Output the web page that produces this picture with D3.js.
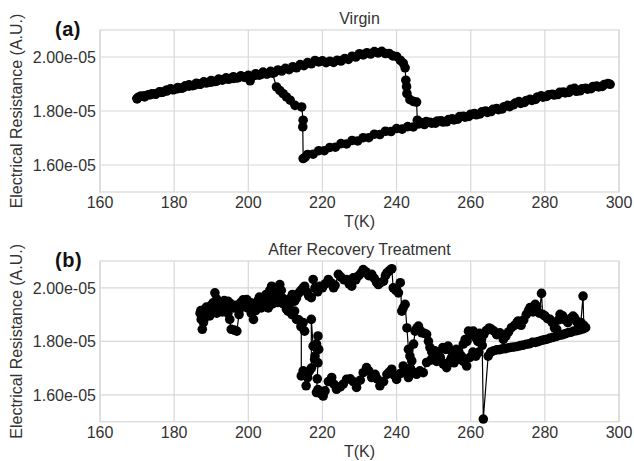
<!DOCTYPE html>
<html><head><meta charset="utf-8">
<script src="https://cdn.jsdelivr.net/npm/d3@7/dist/d3.min.js"></script>
<style>body{margin:0;background:#fff;} svg{display:block;}</style>
</head><body>
<svg id="chart" width="634" height="461"></svg>
<script>
const xTicks = [160, 180, 200, 220, 240, 260, 280, 300];
const yTicks = [1.6e-5, 1.8e-5, 2.0e-5];
const yTickLabels = ["1.60e-05", "1.80e-05", "2.00e-05"];
const panelLabels = ["(a)", "(b)"];
const panelTitles = ["Virgin", "After Recovery Treatment"];
const xLabel = "T(K)";
const yLabel = "Electrical Resistance (A.U.)";
const UNIT = 1e-5;

// Virgin: [T (K), R (x1e-5)] in measurement order
const virgin = [
[170,1.847],[171,1.855],[172,1.852],[173,1.860],[174,1.864],[175,1.862],[176,1.871],[177,1.870],[178,1.878],[179,1.882],
[180,1.879],[181,1.887],[182,1.884],[183,1.893],[184,1.897],[185,1.894],[186,1.903],[187,1.899],[188,1.908],[189,1.905],
[190,1.913],[191,1.909],[192,1.918],[193,1.915],[194,1.923],[195,1.919],[196,1.927],[197,1.922],[198,1.930],[199,1.925],
[200,1.932],[201,1.928],[202,1.938],[203,1.933],[204,1.944],[205,1.938],[206,1.947],[207,1.942],[208,1.952],[209,1.948],
[210,1.958],[211,1.953],[212,1.964],[213,1.960],[214,1.972],[215,1.968],[216,1.979],[217,1.975],[218,1.987],[219,1.982],
[220,1.986],[221,1.979],[222,1.984],[223,1.980],[224,1.988],[225,1.985],[226,1.994],[227,1.991],[228,2.003],[229,2.000],
[230,2.012],[231,2.008],[232,2.016],[233,2.011],[234,2.020],[235,2.015],[236,2.021],[237,2.013],[238,2.013],[239,2.004],
[240,2.002],[241,1.988],[241.8,1.977],[242.3,1.960],[242.5,1.914],[242.7,1.890],[242.8,1.864],[243.6,1.842],[244.6,1.835],[245.4,1.833],
[245.6,1.766],[246.5,1.757],[248,1.761],[249.5,1.755],[251,1.763],[252.5,1.759],[254,1.768],[255.5,1.767],[257,1.779],[258.5,1.777],
[260,1.788],[261.5,1.786],[263,1.797],[264.5,1.795],[266,1.806],[267.5,1.805],[269,1.816],[270.5,1.816],[272,1.829],[273.5,1.828],
[275,1.839],[276.5,1.839],[278,1.852],[279.5,1.851],[281,1.860],[282.5,1.859],[284,1.869],[285.5,1.867],[287,1.880],[288.5,1.873],
[290,1.882],[291.5,1.881],[293,1.891],[294.5,1.889],[296,1.898],[297.6,1.899],
[297,1.902],[295.5,1.891],[294,1.892],[292.5,1.883],[291,1.884],[289.5,1.875],[288,1.884],[286.5,1.869],[285,1.870],[283.5,1.861],
[282,1.862],[280.5,1.854],[279,1.856],[277.5,1.843],[276,1.843],[274.5,1.832],[273,1.835],[271.5,1.823],[270,1.821],[268.5,1.808],
[267,1.809],[265.5,1.798],[264,1.800],[262.5,1.789],[261,1.791],[259.5,1.780],[258,1.780],[256.5,1.770],[255,1.771],[253.5,1.760],
[252,1.764],[250.5,1.755],[249,1.758],[247.5,1.750],[246,1.752],[244.5,1.741],[243,1.742],[241.5,1.733],[240,1.735],[238.5,1.724],
[237,1.725],[235.5,1.713],[234,1.714],[232.5,1.701],[231,1.701],[229.5,1.689],[228,1.691],[226.5,1.678],[225,1.679],[223.5,1.666],
[222,1.665],[220.5,1.653],[219,1.653],[217.5,1.640],[216,1.639],[215.3,1.628],[214.8,1.624],
[214.7,1.741],[214.8,1.766],[214.4,1.815],[212.6,1.821],[211.3,1.840],[210.3,1.852],[209.4,1.864],[208.5,1.876],[207.6,1.889],
[206.5,1.940],[205,1.937],[203.5,1.936],[202,1.933],[200.5,1.912],[199,1.926],[197.5,1.925],[196,1.921],[194.5,1.918],[193,1.915],
[191.5,1.911],[190,1.907],[188.5,1.904],[187,1.900],[185.5,1.896],[184,1.892],[182.5,1.887],[181,1.883],[179.5,1.879],[178,1.874],
[176.5,1.869],[175,1.864],[173.5,1.860],[172,1.856],[170.5,1.852],[170,1.845]
];

// After Recovery Treatment: [T (K), R (x1e-5)] in measurement order
const recovery = [
[187.0,1.905],[187.3,1.882],[187.6,1.845],[187.9,1.870],[188.3,1.920],[188.7,1.928],[189.2,1.912],[189.6,1.895],[190.0,1.930],[190.5,1.944],
[191.0,1.981],[191.5,1.958],[192.0,1.945],[192.5,1.912],[193.0,1.940],[193.5,1.952],[194.0,1.933],[194.5,1.905],[195.0,1.882],[195.4,1.845],
[196.2,1.842],[196.9,1.838],[197.5,1.900],[198.0,1.945],[198.6,1.955],[199.2,1.938],[199.6,1.956],[200.2,1.940],[200.8,1.905],[201.4,1.882],
[201.9,1.920],[202.5,1.950],[203.0,1.965],[203.6,1.942],[204.2,1.960],[204.8,1.975],[205.4,1.925],[205.8,1.990],[206.3,2.006],[206.9,1.970],
[207.5,1.955],[208.0,1.985],[208.5,2.012],[208.9,1.990],[209.4,1.960],[210.0,1.945],[210.7,1.913],[211.3,1.960],[211.9,1.975],[212.5,1.950],
[213.0,1.962],[213.6,1.980],[214.2,1.990],[214.8,2.000],[215.2,2.006],[215.8,1.985],[216.3,1.970],[217.0,1.963],[217.5,2.031],[218.0,2.000],
[218.7,1.985],[219.3,2.006],[220.0,2.000],[220.8,2.015],[221.6,2.031],[222.4,2.018],[223.0,2.000],[223.4,2.009],[224.3,2.050],[225.0,2.040],
[225.8,2.030],[226.5,2.031],[227.2,2.015],[227.9,2.006],[228.3,2.037],[229.0,2.030],[229.8,2.045],[230.4,2.055],[231.0,2.068],[231.7,2.060],
[232.5,2.045],[233.3,2.050],[234.0,2.035],[234.6,2.020],[235.1,2.012],[235.8,2.020],[236.5,2.025],[237.0,2.045],[237.4,2.056],[238.0,2.063],
[238.7,2.071],[239.1,2.000],[239.8,1.990],[240.5,1.981],[241.0,2.019],[241.4,1.913],[241.8,1.925],[242.3,1.938],[242.8,1.850],[243.2,1.770],
[243.6,1.745],[244.1,1.727],[244.6,1.790],[245.0,1.838],[245.5,1.850],[245.9,1.857],[246.4,1.840],[246.8,1.832],[247.5,1.830],[248.1,1.826],
[248.6,1.800],[249.0,1.777],[249.5,1.760],[250.3,1.765],[251.0,1.755],[251.8,1.740],[252.5,1.777],[253.2,1.770],[253.9,1.782],[254.6,1.765],
[255.3,1.750],[256.1,1.770],[256.8,1.760],[257.5,1.745],[258.0,1.790],[258.5,1.807],[259.0,1.800],[259.4,1.838],[260.0,1.825],[260.7,1.838],
[261.3,1.815],[261.9,1.800],[262.4,1.830],[262.9,1.807],[263.5,1.825],[264.2,1.840],[265.0,1.850],[265.6,1.845],[266.3,1.838],[267.0,1.825],
[267.9,1.832],[268.8,1.807],[269.5,1.820],[270.2,1.835],[271.0,1.851],[271.8,1.860],[272.5,1.870],[272.8,1.876],[273.6,1.860],[274.3,1.880],
[275.0,1.900],[275.6,1.915],[276.0,1.926],[276.8,1.910],[277.4,1.938],[277.8,1.930],[278.5,1.905],[279.1,1.979],[279.4,1.901],[280.0,1.895],
[280.7,1.885],[281.4,1.882],[282.0,1.870],[282.6,1.850],[283.2,1.845],[283.7,1.880],[284.1,1.901],[284.8,1.895],[285.5,1.880],[286.2,1.870],
[286.9,1.885],[287.6,1.894],[288.0,1.888],[288.5,1.876],[289.0,1.865],[289.7,1.870],[290.3,1.969],[290.5,1.860],[290.8,1.851],
[291.0,1.851],[290.2,1.846],[289.4,1.843],[288.6,1.840],[287.8,1.838],[287.0,1.834],[286.2,1.832],[285.4,1.828],[284.6,1.824],[283.8,1.822],
[283.0,1.818],[282.2,1.815],[281.4,1.812],[280.6,1.808],[279.8,1.806],[279.0,1.803],[278.2,1.799],[277.4,1.796],[276.6,1.796],[275.8,1.791],
[275.0,1.789],[274.2,1.786],[273.4,1.784],[272.6,1.781],[271.8,1.779],[271.0,1.778],[270.2,1.776],[269.4,1.773],[268.6,1.772],[267.8,1.769],
[267.0,1.768],[266.2,1.765],[265.4,1.760],[264.7,1.745],[263.4,1.510],[263.1,1.785],[262.2,1.760],[261.4,1.745],[260.6,1.760],[259.8,1.740],
[258.9,1.708],[258.0,1.725],[257.1,1.733],[256.3,1.745],[255.5,1.720],[254.7,1.735],[253.9,1.720],[253.5,1.702],[252.6,1.715],[251.7,1.733],
[250.8,1.725],[250.0,1.745],[249.2,1.730],[248.1,1.721],[247.2,1.683],[246.3,1.690],[245.4,1.677],[244.5,1.685],[243.7,1.700],[243.2,1.665],
[242.5,1.690],[241.8,1.708],[241.0,1.680],[240.0,1.658],[239.3,1.675],[238.7,1.696],[238.0,1.685],[237.4,1.677],[236.5,1.650],[235.5,1.634],
[234.8,1.660],[234.2,1.677],[233.3,1.665],[232.5,1.690],[231.9,1.702],[231.0,1.683],[230.2,1.655],[229.2,1.628],[228.3,1.650],[227.5,1.660],
[226.5,1.658],[225.6,1.640],[224.8,1.630],[223.8,1.621],[223.1,1.640],[222.5,1.665],[221.6,1.650],[220.7,1.615],[220.2,1.596],[219.5,1.605],
[218.8,1.620],[218.4,1.609],[218.6,1.660],[218.8,1.720],[219.0,1.770],[218.8,1.820],[218.4,1.790],[218.0,1.745],[217.9,1.733],[217.5,1.782],
[217.0,1.882],[217.0,1.700],[216.5,1.690],[216.0,1.665],[215.6,1.634],[215.2,1.683],[214.8,1.690],[214.3,1.671],[214.3,1.870],[215.2,1.838],
[214.8,1.870],[214.2,1.855],[213.6,1.880],[213.0,1.882],[212.5,1.913],[211.8,1.900],[211.0,1.935],[210.3,1.920],[209.5,1.940],[208.8,1.955],
[208.0,1.945],[207.3,1.965],[206.5,1.940],[205.8,1.955],[205.0,1.930],[204.3,1.945],[203.5,1.925],[202.8,1.935],[202.0,1.915],[201.2,1.930],
[200.5,1.945],[199.8,1.925],[199.0,1.940],[198.2,1.930],[197.5,1.915],[196.7,1.935],[196.0,1.925],[195.3,1.940],[194.5,1.950],[193.8,1.930],
[193.0,1.910],[192.3,1.925],[191.5,1.905],[190.8,1.915],[190.0,1.935],[189.3,1.920],[188.6,1.895],[188.0,1.880],[187.6,1.900],[187.2,1.915]
];

const svg = d3.select("#chart");
const FONT = "'Liberation Sans', Arial, Helvetica, sans-serif";
const textColor = "#333";
const gridColor = "#d8d8d8";

const panels = [
  {data: virgin, top: 30, bottom: 192},
  {data: recovery, top: 261, bottom: 421.7}
];
const left = 100, right = 619;

panels.forEach((p, i) => {
  const x = d3.scaleLinear().domain([160, 300]).range([left, right]);
  const y = d3.scaleLinear().domain([1.5e-5, 2.1e-5]).range([p.bottom, p.top]);
  const g = svg.append("g");

  g.selectAll(".vg").data(xTicks).join("line")
    .attr("x1", d => x(d)).attr("x2", d => x(d))
    .attr("y1", p.top).attr("y2", p.bottom)
    .attr("stroke", gridColor).attr("stroke-width", 1.2);
  g.selectAll(".hg").data(yTicks).join("line")
    .attr("x1", left).attr("x2", right)
    .attr("y1", d => y(d)).attr("y2", d => y(d))
    .attr("stroke", gridColor).attr("stroke-width", 1.2);
  g.append("rect").attr("x", left).attr("y", p.top)
    .attr("width", right - left).attr("height", p.bottom - p.top)
    .attr("fill", "none").attr("stroke", gridColor).attr("stroke-width", 1.2);

  const line = d3.line().x(d => x(d[0])).y(d => y(d[1] * UNIT));
  g.append("path").datum(p.data).attr("d", line)
    .attr("fill", "none").attr("stroke", "#000").attr("stroke-width", 1.2);
  g.selectAll("circle").data(p.data).join("circle")
    .attr("cx", d => x(d[0])).attr("cy", d => y(d[1] * UNIT))
    .attr("r", 4.8).attr("fill", "#000");

  g.selectAll(".xt").data(xTicks).join("text")
    .attr("x", d => x(d)).attr("y", p.bottom + 16)
    .attr("text-anchor", "middle").attr("font-family", FONT).attr("font-size", 16)
    .attr("fill", textColor).text(d => d);
  g.selectAll(".yt").data(yTicks).join("text")
    .attr("x", 96).attr("y", d => y(d)).attr("dy", "0.36em")
    .attr("text-anchor", "end").attr("font-family", FONT).attr("font-size", 16)
    .attr("fill", textColor).text((d, k) => yTickLabels[k]);

  g.append("text").attr("x", (left + right) / 2).attr("y", p.bottom + 35)
    .attr("text-anchor", "middle").attr("font-family", FONT).attr("font-size", 16)
    .attr("fill", textColor).text(xLabel);
  g.append("text")
    .attr("transform", `translate(22,${(p.top + p.bottom) / 2}) rotate(-90)`)
    .attr("text-anchor", "middle").attr("font-family", FONT).attr("font-size", 16)
    .attr("fill", textColor).text(yLabel);

  g.append("text").attr("x", (left + right) / 2).attr("y", p.top - 6)
    .attr("text-anchor", "middle").attr("font-family", FONT).attr("font-size", 16)
    .attr("fill", textColor).text(panelTitles[i]);

  g.append("text").attr("x", 55).attr("y", p.top + 6)
    .attr("font-family", FONT).attr("font-size", 20).attr("font-weight", "bold")
    .attr("letter-spacing", "0.5px")
    .attr("fill", "#111").text(panelLabels[i]);
});
</script>
</body></html>
